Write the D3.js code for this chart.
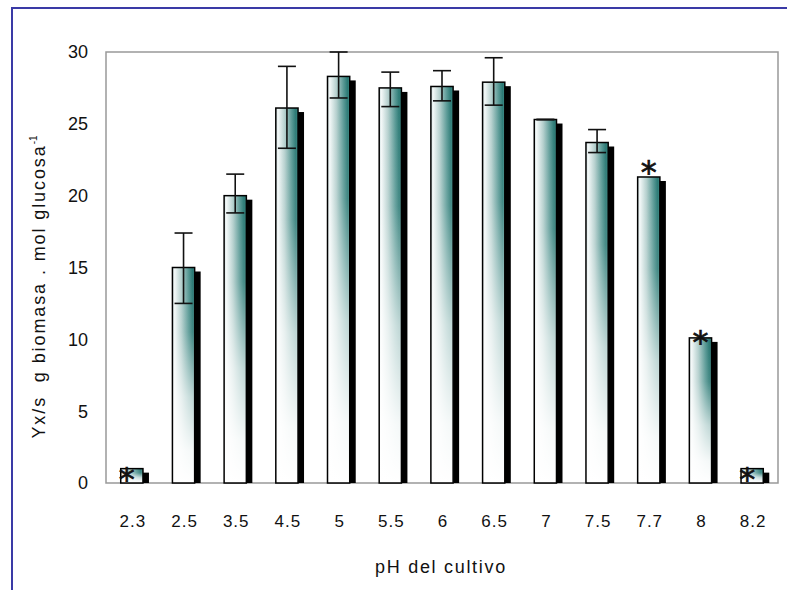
<!DOCTYPE html>
<html>
<head>
<meta charset="utf-8">
<script src="https://cdn.jsdelivr.net/npm/d3@7"></script>
<style>
  html, body { margin: 0; padding: 0; background: #fff; }
  svg { display: block; }
  text { font-family: "Liberation Sans", Arial, sans-serif; fill: #111; }
</style>
</head>
<body>
<svg id="chart" width="787" height="590"></svg>
<script>
// Biomass yield per pH of the culture
const categories = ["2.3", "2.5", "3.5", "4.5", "5", "5.5", "6", "6.5", "7", "7.5", "7.7", "8", "8.2"];
const values     = [1.0, 15.0, 20.0, 26.1, 28.3, 27.5, 27.6, 27.9, 25.3, 23.7, 21.3, 10.1, 1.0];
const errLow     = [null, 12.5, 18.8, 23.3, 26.8, 26.2, 26.6, 26.3, 25.3, 23.0, null, null, null];
const errHigh    = [null, 17.4, 21.5, 29.0, 30.0, 28.6, 28.7, 29.6, 25.3, 24.6, null, null, null];
// significance marks: category -> where the asterisk sits
const markedCats = ["2.3", "7.7", "8", "8.2"];
const markPlaces = ["base", "above", "top", "base"];
const yTicks     = [0, 5, 10, 15, 20, 25, 30];

const svg = d3.select("#chart");
const plot = { left: 106, right: 778, top: 52, bottom: 483 };

// outer frame
svg.append("path")
  .attr("d", "M12,592 V8 H790")
  .attr("fill", "none")
  .attr("stroke", "#3a3aa6")
  .attr("stroke-width", 2);

const x = d3.scaleBand().domain(categories).range([plot.left, plot.right]).padding(0);
const y = d3.scaleLinear().domain([0, 30]).range([plot.bottom, plot.top]);
const barW = x.bandwidth() * 0.43;
const shadowDx = 6, shadowDy = 4;

// gradients
const defs = svg.append("defs");
const hg = defs.append("linearGradient").attr("id", "barFill")
  .attr("x1", "0").attr("x2", "1").attr("y1", "0").attr("y2", "0");
[["0%", "#cfdfdf"], ["10%", "#f3f8f8"], ["40%", "#b4cfcd"], ["72%", "#579894"],
 ["90%", "#2a7974"], ["100%", "#3e8b86"]].forEach(([o, c]) =>
  hg.append("stop").attr("offset", o).attr("stop-color", c));
const vg = defs.append("linearGradient").attr("id", "barFade")
  .attr("x1", "0").attr("x2", "0").attr("y1", "0").attr("y2", "1");
[["0%", 0], ["30%", 0.12], ["60%", 0.7], ["85%", 0.95], ["100%", 1]].forEach(([o, a]) =>
  vg.append("stop").attr("offset", o).attr("stop-color", "#fff").attr("stop-opacity", a));

// plot area border
svg.append("rect")
  .attr("x", plot.left).attr("y", plot.top)
  .attr("width", plot.right - plot.left).attr("height", plot.bottom - plot.top)
  .attr("fill", "none").attr("stroke", "#999").attr("stroke-width", 1.5);

const data = categories.map((c, i) => ({ c, v: values[i], lo: errLow[i], hi: errHigh[i] }));
const cx = d => x(d.c) + x.bandwidth() / 2;

// shadows
svg.append("g").selectAll("rect").data(data).join("rect")
  .attr("x", d => cx(d) - barW / 2 + shadowDx)
  .attr("y", d => y(d.v) + shadowDy)
  .attr("width", barW)
  .attr("height", d => y(0) - y(d.v) - shadowDy)
  .attr("fill", "#000");

// bars
const bars = svg.append("g");
bars.selectAll("rect.fill").data(data).join("rect").attr("class", "fill")
  .attr("x", d => cx(d) - barW / 2)
  .attr("y", d => y(d.v))
  .attr("width", barW)
  .attr("height", d => y(0) - y(d.v))
  .attr("fill", "url(#barFill)");
bars.selectAll("rect.fade").data(data).join("rect").attr("class", "fade")
  .attr("x", d => cx(d) - barW / 2)
  .attr("y", d => y(d.v))
  .attr("width", barW)
  .attr("height", d => y(0) - y(d.v))
  .attr("fill", "url(#barFade)")
  .attr("stroke", "#000").attr("stroke-width", 1.5);

// error bars
const errs = data.filter(d => d.lo != null);
const eg = svg.append("g").attr("stroke", "#111").attr("stroke-width", 1.6).attr("fill", "none");
const capW = 18;
eg.selectAll("line.v").data(errs).join("line").attr("class", "v")
  .attr("x1", cx).attr("x2", cx)
  .attr("y1", d => y(d.lo)).attr("y2", d => y(d.hi));
eg.selectAll("line.hi").data(errs).join("line").attr("class", "hi")
  .attr("x1", d => cx(d) - capW / 2).attr("x2", d => cx(d) + capW / 2)
  .attr("y1", d => y(d.hi)).attr("y2", d => y(d.hi));
eg.selectAll("line.lo").data(errs).join("line").attr("class", "lo")
  .attr("x1", d => cx(d) - capW / 2).attr("x2", d => cx(d) + capW / 2)
  .attr("y1", d => y(d.lo)).attr("y2", d => y(d.lo));

// significance asterisks
const marks = markedCats.map((c, i) => ({ c, place: markPlaces[i], v: values[categories.indexOf(c)] }));
svg.append("g").selectAll("text").data(marks).join("text")
  .attr("x", d => cx(d) + (d.place === "base" ? -5 : 0))
  .attr("y", d => {
    if (d.place === "above") return y(d.v) - 9;
    if (d.place === "top") return y(d.v);
    return y(0) - 8;
  })
  .attr("text-anchor", "middle")
  .attr("dy", "0.47em")
  .style("font-family", "DejaVu Sans, sans-serif")
  .style("font-size", "32px")
  .style("stroke", "#111")
  .style("stroke-width", "0.7px")
  .text("*");

// y tick labels
svg.append("g").selectAll("text").data(yTicks).join("text")
  .attr("x", 88).attr("y", d => y(d))
  .attr("dy", "0.36em")
  .attr("text-anchor", "end")
  .style("font-size", "18px")
  .text(d => d);

// x tick labels
svg.append("g").selectAll("text").data(categories).join("text")
  .attr("x", d => x(d) + x.bandwidth() / 2 + 1).attr("y", 527)
  .attr("text-anchor", "middle")
  .style("font-size", "17px")
  .style("letter-spacing", "1px")
  .text(d => d);

// axis titles
svg.append("text")
  .attr("x", (plot.left + plot.right) / 2 - 1).attr("y", 573)
  .attr("text-anchor", "middle")
  .style("font-size", "18px")
  .style("letter-spacing", "1.7px")
  .text("pH del cultivo");

const yt = svg.append("text")
  .attr("transform", "translate(45,287) rotate(-90)")
  .attr("text-anchor", "middle")
  .style("font-size", "18px")
  .style("letter-spacing", "1.9px")
  .style("white-space", "pre");
yt.append("tspan").text("Yx/s  g biomasa . mol glucosa");
yt.append("tspan").attr("dy", "-8").style("font-size", "10px").style("letter-spacing", "0px").text("-1");
</script>
</body>
</html>
